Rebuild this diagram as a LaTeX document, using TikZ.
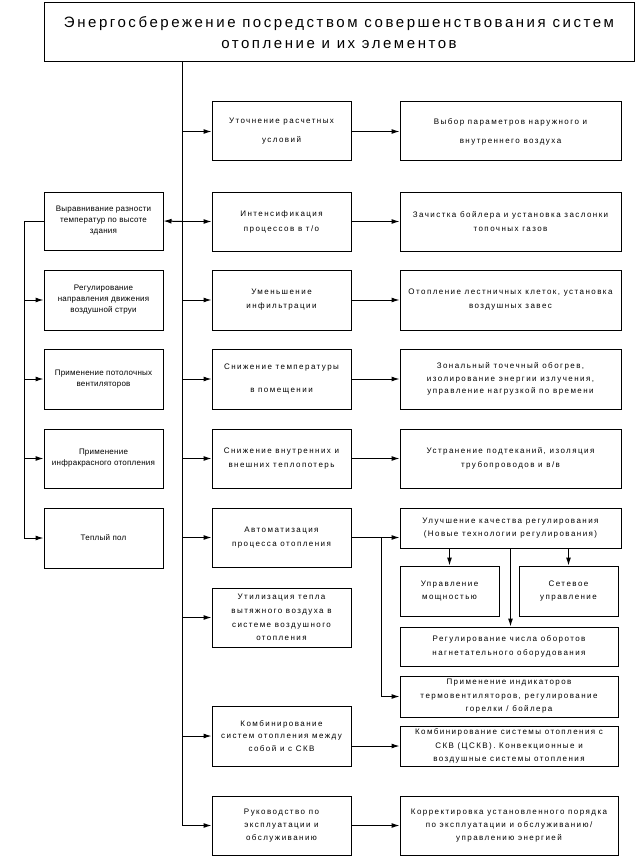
\documentclass[tikz,border=0pt]{standalone}
\usepackage{fontspec}
\setmainfont{Liberation Sans}
\newfontfamily\boxfont[LetterSpace=18]{Liberation Sans}
\newfontfamily\leftfont[LetterSpace=3]{Liberation Sans}
\newfontfamily\titlefont[LetterSpace=17]{Liberation Sans}
\usetikzlibrary{arrows.meta}
\tikzset{
  box/.style={draw, line width=1pt, align=center, inner sep=0pt},
  ls/.style={font=\boxfont\fontsize{8}{#1}\selectfont},
  lf/.style={font=\leftfont\fontsize{8}{11}\selectfont},
  arr/.style={line width=1pt, -{Latex[length=8pt,width=5pt]}},
  ln/.style={line width=1pt},
}
\begin{document}
\begin{tikzpicture}[x=1pt,y=-1pt]
\useasboundingbox (0,0) rectangle (643,861);
% title
\node[box, minimum width=590pt, minimum height=59pt, font=\titlefont\fontsize{15}{21}\selectfont] (title) at (339,32.5)
  {Энергосбережение посредством совершенствования систем\\отопление и их элементов};
% middle column
\node[box, ls=19, minimum width=139pt, minimum height=59pt] (m1) at (281.5,131.5) {Уточнение расчетных\\условий};
\node[box, ls=15, minimum width=139pt, minimum height=59pt] (m2) at (281.5,221.5) {Интенсификация\\процессов в т/о};
\node[box, ls=14, minimum width=139pt, minimum height=60pt] (m3) at (281.5,300) {Уменьшение\\инфильтрации};
\node[box, ls=22, minimum width=139pt, minimum height=60pt] (m4) at (281.5,379) {Снижение температуры\\в помещении};
\node[box, ls=14, minimum width=139pt, minimum height=59pt] (m5) at (281.5,458.5) {Снижение внутренних и\\внешних теплопотерь};
\node[box, ls=14, minimum width=139pt, minimum height=59pt] (m6) at (281.5,537.5) {Автоматизация\\процесса отопления};
\node[box, ls=13.6, minimum width=139pt, minimum height=59pt] (m7) at (281.5,617.5) {Утилизация тепла\\вытяжного воздуха в\\системе воздушного\\отопления};
\node[box, ls=12.5, minimum width=139pt, minimum height=60pt] (m8) at (281.5,736) {Комбинирование\\систем отопления между\\собой и с СКВ};
\node[box, ls=13, minimum width=139pt, minimum height=59pt] (m9) at (281.5,825.5) {Руководство по\\эксплуатации и\\обслуживанию};
% right column
\node[box, ls=19, minimum width=221pt, minimum height=59pt] (r1) at (510.5,131.5) {Выбор параметров наружного и\\внутреннего воздуха};
\node[box, ls=14, minimum width=221pt, minimum height=59pt] (r2) at (510.5,221.5) {Зачистка бойлера и установка заслонки\\топочных газов};
\node[box, ls=14, minimum width=221pt, minimum height=60pt] (r3) at (510.5,300) {Отопление лестничных клеток, установка\\воздушных завес};
\node[box, ls=12.5, minimum width=221pt, minimum height=60pt] (r4) at (510.5,379) {Зональный точечный обогрев,\\изолирование энергии излучения,\\управление нагрузкой по времени};
\node[box, ls=14, minimum width=221pt, minimum height=59pt] (r5) at (510.5,458.5) {Устранение подтеканий, изоляция\\трубопроводов и в/в};
\node[box, ls=13, minimum width=221pt, minimum height=40pt] (r6) at (510.5,528) {Улучшение качества регулирования\\(Новые технологии регулирования)};
\node[box, ls=13, minimum width=99pt, minimum height=50pt] (ra) at (449.5,591) {Управление\\мощностью};
\node[box, ls=13, minimum width=99pt, minimum height=50pt] (rb) at (568.5,591) {Сетевое\\управление};
\node[box, ls=14, minimum width=218pt, minimum height=39pt] (rc) at (509,646.5) {Регулирование числа оборотов\\нагнетательного оборудования};
\node[box, ls=13.5, minimum width=218pt, minimum height=41pt] (rd) at (509,696.5) {Применение индикаторов\\термовентиляторов, регулирование\\горелки / бойлера};
\node[box, ls=13.5, minimum width=218pt, minimum height=40pt] (r8) at (509,746) {Комбинирование системы отопления с\\СКВ (ЦСКВ). Конвекционные и\\воздушные системы отопления};
\node[box, ls=13, minimum width=218pt, minimum height=59pt] (r9) at (509,825.5) {Корректировка установленного порядка\\по эксплуатации и обслуживанию/\\управлению энергией};
% left column
\node[box, lf, minimum width=119pt, minimum height=58pt] (l1) at (103.5,221) {Выравнивание разности\\температур по высоте\\здания};
\node[box, lf, minimum width=119pt, minimum height=60pt] (l2) at (103.5,300) {Регулирование\\направления движения\\воздушной струи};
\node[box, lf, minimum width=119pt, minimum height=60pt] (l3) at (103.5,379) {Применение потолочных\\вентиляторов};
\node[box, lf, minimum width=119pt, minimum height=59pt] (l4) at (103.5,458.5) {Применение\\инфракрасного отопления};
\node[box, lf, minimum width=119pt, minimum height=60pt] (l5) at (103.5,538) {Теплый пол};
% helper coordinates
\coordinate (tx) at (182,0);
\coordinate (lx) at (24,0);
\coordinate (bx) at (381,0);
% trunk
\draw[ln] (title.south -| tx) -- (m9.west -| tx);
\foreach \m in {m1,m2,m3,m4,m5,m6,m7,m8,m9}
  \draw[arr] (\m.west -| tx) -- (\m.west);
% to left column
\draw[arr] (m2.west -| tx) -- (l1.east);
\draw[ln] (l1.west) -- (l1.west -| lx) -- (l5.west -| lx);
\foreach \l in {l2,l3,l4,l5}
  \draw[arr] (\l.west -| lx) -- (\l.west);
% to right column
\draw[arr] (m1.east) -- (r1.west);
\draw[arr] (m2.east) -- (r2.west);
\draw[arr] (m3.east) -- (r3.west);
\draw[arr] (m4.east) -- (r4.west);
\draw[arr] (m5.east) -- (r5.west);
\draw[arr] (m6.east) -- (m6.east -| r6.west);
\draw[arr] (m6.east -| bx) |- (rd.west);
\draw[arr] (m8.east |- r8.west) -- (r8.west);
\draw[arr] (m9.east) -- (r9.west);
% automation subtree
\draw[arr] (r6.south -| ra) -- (ra.north);
\draw[arr] (r6.south -| rb) -- (rb.north);
\draw[arr] (r6.south) -- (r6.south |- rc.north);
\end{tikzpicture}
\end{document}
